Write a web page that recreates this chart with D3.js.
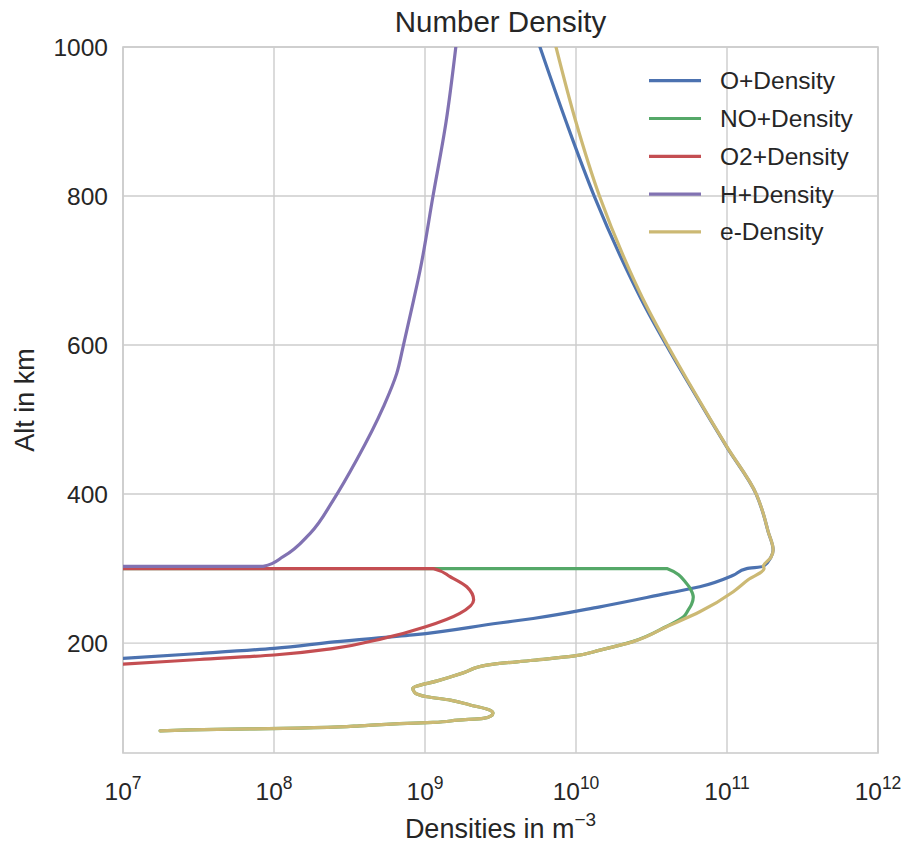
<!DOCTYPE html>
<html>
<head>
<meta charset="utf-8">
<script src="https://cdnjs.cloudflare.com/ajax/libs/d3/7.8.5/d3.min.js"></script>
<style>
  html, body { margin: 0; padding: 0; background: #ffffff; }
  svg text { font-family: "Liberation Sans", Arial, sans-serif; fill: #262626; }
</style>
</head>
<body>
<svg id="chart" width="903" height="846"></svg>
<script>
// Ion and electron number densities (m^-3) against altitude (km).
// Below 300 km one model supplies O+, NO+ and O2+; above it a second model
// supplies O+ and H+. A zero marks where a species is absent.

const oAlt = [170, 179.5, 186, 193, 201.7, 211, 227, 233, 248.7, 266.7, 275.6, 291, 300,
              303, 315, 325, 350, 375, 400, 463, 500, 550, 600, 653, 700, 800, 900, 1000];
const oDensity = [1.6e6, 1.0e7, 3.2e7, 1.0e8, 2.5e8, 8.3e8, 3.1e9, 5.2e9, 1.44e10, 4.0e10, 6.6e10, 1.1e11, 1.35e11,
                  1.74e11, 1.95e11, 2.02e11, 1.87e11, 1.73e11, 1.56e11, 9.98e10, 7.74e10, 5.51e10, 3.96e10, 2.84e10,
                  2.18e10, 1.32e10, 8.59e9, 5.77e9];

const noAlt = [82.3, 84.2, 85.5, 87.5, 89, 92, 93.5, 96.6, 99, 102, 106, 110, 117, 123.5, 128, 133, 139,
               150, 160, 170.4, 177, 182.5, 190.6, 202, 222, 235, 244, 252, 262, 272, 280, 300, 303];
const noDensity = [1.76e7, 4.2e7, 1.15e8, 2.74e8, 3.7e8, 6.8e8, 1.13e9, 1.66e9, 2.43e9, 2.72e9, 2.82e9, 2.69e9,
                   1.99e9, 1.47e9, 1.03e9, 8.6e8, 8.3e8, 1.24e9, 1.79e9, 2.56e9, 5.2e9, 9.55e9, 1.44e10,
                   2.37e10, 3.94e10, 5.14e10, 5.52e10, 5.82e10, 5.98e10, 5.75e10, 5.4e10, 4.0e10, 0];

const o2Alt = [165, 171.8, 178, 184, 193, 206.3, 222, 240, 258, 275.6, 289, 300, 303];
const o2Density = [2.5e6, 1.0e7, 3.2e7, 1.0e8, 2.5e8, 5.3e8, 1.01e9, 1.7e9, 2.1e9, 1.89e9, 1.47e9, 1.14e9, 0];

const hAlt = [300, 303, 316, 347, 392, 446, 517, 562, 600, 660, 700, 800, 900, 1000];
const hDensity = [0, 8.5e7, 1.15e8, 1.73e8, 2.47e8, 3.53e8, 5.3e8, 6.5e8, 7.2e8, 8.4e8, 9.27e8, 1.13e9, 1.38e9, 1.6e9];

const eAlt = [82.3, 84.2, 85.5, 87.5, 89, 92, 93.5, 96.6, 99, 102, 106, 110, 117, 123.5, 128, 133, 139,
              150, 160, 170.4, 177, 182.5, 190.6, 202, 222, 242, 269, 285, 300,
              303, 315, 325, 350, 375, 400, 463, 500, 550, 600, 653, 700, 800, 900, 1000];
const eDensity = [1.76e7, 4.2e7, 1.15e8, 2.74e8, 3.7e8, 6.8e8, 1.13e9, 1.66e9, 2.43e9, 2.72e9, 2.82e9, 2.69e9,
                  1.99e9, 1.47e9, 1.03e9, 8.6e8, 8.3e8, 1.24e9, 1.79e9, 2.56e9, 5.2e9, 9.55e9, 1.44e10,
                  2.39e10, 3.98e10, 6.6e10, 1.1e11, 1.38e11, 1.76e11,
                  1.741e11, 1.951e11, 2.022e11, 1.872e11, 1.732e11, 1.563e11, 1.002e11, 7.78e10, 5.57e10, 4.03e10,
                  2.92e10, 2.27e10, 1.43e10, 9.97e9, 7.37e9];

const seriesNames = ["O+Density", "NO+Density", "O2+Density", "H+Density", "e-Density"];
const seriesColors = ["#4C72B0", "#55A868", "#C44E52", "#8172B2", "#CCB974"];
const seriesAlt = [oAlt, noAlt, o2Alt, hAlt, eAlt];
const seriesDensity = [oDensity, noDensity, o2Density, hDensity, eDensity];

const xTickExponents = [7, 8, 9, 10, 11, 12];
const yTicks = [200, 400, 600, 800, 1000];
const xDomain = [1e7, 1e12];
const yDomain = [52.5, 1000];

const titleText = "Number Density";
const xLabelText = "Densities in m";
const xLabelSup = "\u22123";
const yLabelText = "Alt in km";

// ---- layout ----
const margin = { left: 123, right: 25, top: 47, bottom: 93 };
const width = 903, height = 846;
const plotW = width - margin.left - margin.right;
const plotH = height - margin.top - margin.bottom;

const svg = d3.select("#chart");
const x = d3.scaleLog().domain(xDomain).range([margin.left, margin.left + plotW]);
const y = d3.scaleLinear().domain(yDomain).range([margin.top + plotH, margin.top]);

// grid
const grid = svg.append("g").attr("stroke", "#cccccc").attr("stroke-width", 1.4);
grid.selectAll("line.gx").data(xTickExponents.map(e => Math.pow(10, e))).join("line")
  .attr("x1", d => x(d)).attr("x2", d => x(d))
  .attr("y1", margin.top).attr("y2", margin.top + plotH);
grid.selectAll("line.gy").data(yTicks).join("line")
  .attr("x1", margin.left).attr("x2", margin.left + plotW)
  .attr("y1", d => y(d)).attr("y2", d => y(d));

// frame
svg.append("rect")
  .attr("x", margin.left).attr("y", margin.top)
  .attr("width", plotW).attr("height", plotH)
  .attr("fill", "none").attr("stroke", "#cccccc").attr("stroke-width", 1.6);

// clip for curves
svg.append("clipPath").attr("id", "plotClip").append("rect")
  .attr("x", margin.left).attr("y", margin.top).attr("width", plotW).attr("height", plotH);

// non-positive densities are pushed far to the left of the log axis
const xPos = v => x(v > 0 ? v : 1e-300);

const line = d3.line()
  .x(d => xPos(d[1]))
  .y(d => y(d[0]))
  .curve(d3.curveMonotoneY);

const curves = svg.append("g").attr("clip-path", "url(#plotClip)");
seriesNames.forEach((name, i) => {
  const pts = seriesAlt[i].map((a, k) => [a, seriesDensity[i][k]]);
  curves.append("path")
    .datum(pts)
    .attr("d", line)
    .attr("fill", "none")
    .attr("stroke", seriesColors[i])
    .attr("stroke-width", 3.2)
    .attr("stroke-linejoin", "round")
    .attr("stroke-linecap", "round");
});

// y tick labels
svg.append("g").selectAll("text").data(yTicks).join("text")
  .attr("x", margin.left - 15).attr("y", d => y(d))
  .attr("dy", "0.35em")
  .attr("text-anchor", "end")
  .attr("font-size", 24.5)
  .text(d => d);

// x tick labels (powers of ten)
const xt = svg.append("g").selectAll("text").data(xTickExponents).join("text")
  .attr("x", d => x(Math.pow(10, d)))
  .attr("y", 800)
  .attr("text-anchor", "middle")
  .attr("font-size", 24.5);
xt.append("tspan").text("10");
xt.append("tspan").attr("font-size", 17.5).attr("dy", -11).text(d => d);

// axis titles
const xl = svg.append("text")
  .attr("x", margin.left + plotW / 2).attr("y", 838)
  .attr("text-anchor", "middle").attr("font-size", 27);
xl.append("tspan").text(xLabelText);
xl.append("tspan").attr("font-size", 19).attr("dy", -12).text(xLabelSup);

svg.append("text")
  .attr("transform", `translate(34, ${margin.top + plotH / 2}) rotate(-90)`)
  .attr("text-anchor", "middle").attr("font-size", 27)
  .text(yLabelText);

svg.append("text")
  .attr("x", margin.left + plotW / 2).attr("y", 32)
  .attr("text-anchor", "middle").attr("font-size", 29.5)
  .text(titleText);

// legend
const legend = svg.append("g");
seriesNames.forEach((name, i) => {
  const ly = 80.7 + i * 37.8;
  legend.append("line")
    .attr("x1", 649).attr("x2", 701).attr("y1", ly).attr("y2", ly)
    .attr("stroke", seriesColors[i]).attr("stroke-width", 3.2);
  legend.append("text")
    .attr("x", 720).attr("y", ly).attr("dy", "0.35em")
    .attr("font-size", 24.5)
    .text(name);
});
</script>
</body>
</html>
